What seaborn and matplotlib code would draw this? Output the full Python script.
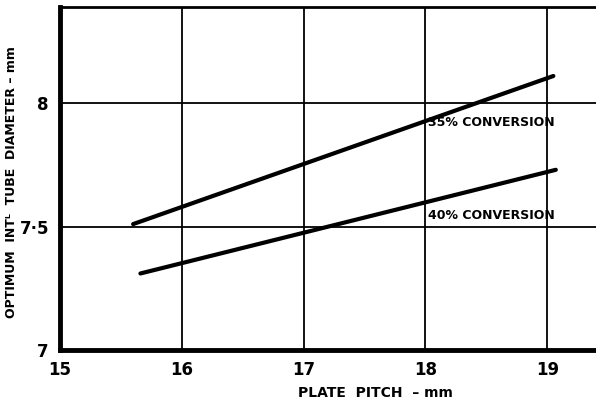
import matplotlib
matplotlib.use("Agg")
import matplotlib.pyplot as plt
import seaborn as sns
import pandas as pd

# Data
pitch_35 = [15.6, 19.05]
diam_35 = [7.51, 8.11]
pitch_40 = [15.66, 19.07]
diam_40 = [7.31, 7.73]
series_labels = ["35% CONVERSION", "40% CONVERSION"]
x_ticks = [15, 16, 17, 18, 19]
y_ticks = [7, 7.5, 8]
y_tick_labels = ["7", "7·5", "8"]

df = pd.DataFrame({
    "pitch": pitch_35 + pitch_40,
    "diam": diam_35 + diam_40,
    "series": [series_labels[0]] * len(pitch_35) + [series_labels[1]] * len(pitch_40),
})

sns.set_theme(style="white")
plt.rcParams["font.family"] = ["DejaVu Sans"]
plt.rcParams["text.color"] = "black"
plt.rcParams["axes.labelcolor"] = "black"

fig = plt.figure(figsize=(5.96, 4.05), dpi=100)
ax = fig.add_axes([0.1007, 0.1358, 0.8993, 0.8472])

sns.lineplot(data=df, x="pitch", y="diam", hue="series",
             palette=["black", "black"], linewidth=3, legend=False, ax=ax)

ax.set_xlim(15, 19.4)
ax.set_ylim(7, 8.39)
ax.set_xticks(x_ticks)
ax.set_yticks(y_ticks)
ax.set_yticklabels(y_tick_labels)
ax.grid(True, color="black", linewidth=1.3)
ax.set_axisbelow(True)
ax.tick_params(length=0, labelsize=12, colors="black", pad=8)
for lab in ax.get_xticklabels() + ax.get_yticklabels():
    lab.set_fontweight("bold")

ax.spines["left"].set_linewidth(3.5)
ax.spines["bottom"].set_linewidth(3.5)
ax.spines["top"].set_linewidth(2)
ax.spines["right"].set_visible(False)
for s in ax.spines.values():
    s.set_color("black")

ax.text(18.02, 7.92, series_labels[0], fontsize=9, fontweight="bold", va="center", ha="left", color="black")
ax.text(18.02, 7.545, series_labels[1], fontsize=9, fontweight="bold", va="center", ha="left", color="black")

ax.set_xlabel("PLATE  PITCH  – mm", fontsize=10, fontweight="bold")
ax.xaxis.set_label_coords(0.588, -0.105)
ax.set_ylabel("OPTIMUM  INTᴸ  TUBE  DIAMETER – mm", fontsize=9, fontweight="bold")
ax.yaxis.set_label_coords(-0.078, 0.49)

fig.savefig("out.png", dpi=100)
